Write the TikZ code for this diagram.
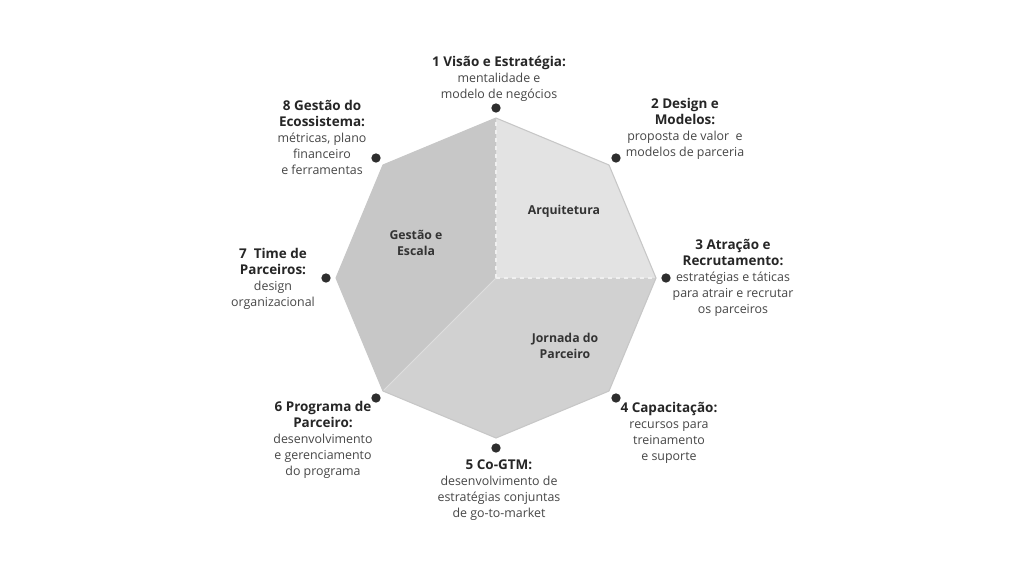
\documentclass[tikz,border=0pt]{standalone}
\usepackage{fontspec}
\setmainfont{Open Sans}
\newcommand\mytitle[1]{{\fontsize{10.1}{12}\selectfont\bfseries\color{black!85}#1}}
\begin{document}
\begin{tikzpicture}[x=0.75pt,y=-0.75pt,
  lbl/.style={align=center,inner sep=0pt,font=\fontsize{9.3}{12}\selectfont,text=black!72},
  reg/.style={align=center,inner sep=0pt,font=\fontsize{9.2}{11.5}\selectfont\bfseries,text=black!80},
  dot/.style={circle,fill=black!82,inner sep=0pt,minimum size=7pt},
  edge/.style={draw=black!22,line width=0.8pt,line join=round}]
\useasboundingbox (0,0) rectangle (1024,576);
\fill[white] (0,0) rectangle (1024,576);
% octagon vertices
\coordinate (C) at (496,278);
\coordinate (vT) at (496,118);
\coordinate (vUR) at (609,165);
\coordinate (vR) at (656,278);
\coordinate (vLR) at (609,391);
\coordinate (vB) at (496,438);
\coordinate (vLL) at (383,391);
\coordinate (vL) at (336,278);
\coordinate (vUL) at (383,165);
% regions
\fill[black!11] (C) -- (vT) -- (vUR) -- (vR) -- cycle;
\fill[black!22] (C) -- (vT) -- (vUL) -- (vL) -- (vLL) -- cycle;
\fill[black!18] (C) -- (vR) -- (vLR) -- (vB) -- (vLL) -- cycle;
\draw[black!6,line width=0.8pt,dashed] (C) -- (vT);
\draw[black!6,line width=0.8pt,dashed] (C) -- (vR);
\draw[black!13,line width=0.6pt] (C) -- (vLL);
\draw[edge] (vT) -- (vUR) -- (vR) -- (vLR) -- (vB) -- (vLL) -- (vL) -- (vUL) -- cycle;
% region labels
\node[reg] (rA) at (564,211) {Arquitetura};
\node[reg] (rG) at (416,243) {Gestão e\\Escala};
\node[reg] (rJ) at (565,346) {Jornada do\\Parceiro};
% dots
\node[dot] (d1) at (496,108) {};
\node[dot] (d2) at (616,158) {};
\node[dot] (d3) at (666,278) {};
\node[dot] (d4) at (616,398) {};
\node[dot] (d5) at (496,448) {};
\node[dot] (d6) at (376,398) {};
\node[dot] (d7) at (326,278) {};
\node[dot] (d8) at (376,158) {};
% labels
\node[lbl] (l1) at (499,79) {\mytitle{1 Visão e Estratégia:}\\mentalidade e\\modelo de negócios};
\node[lbl] (l2) at (685,129) {\mytitle{2 Design e}\\\mytitle{Modelos:}\\proposta de valor\ \ e\\modelos de parceria};
\node[lbl] (l3) at (733,278) {\mytitle{3 Atração e}\\\mytitle{Recrutamento:}\\estratégias e táticas\\para atrair e recrutar\\os parceiros};
\node[lbl] (l4) at (669,433) {\mytitle{4 Capacitação:}\\recursos para\\treinamento\\e suporte};
\node[lbl] (l5) at (499,490) {\mytitle{5 Co-GTM:}\\desenvolvimento de\\estratégias conjuntas\\de go-to-market};
\node[lbl] (l6) at (323,440) {\mytitle{6 Programa de}\\\mytitle{Parceiro:}\\desenvolvimento\\e gerenciamento\\do programa};
\node[lbl] (l7) at (273,279) {\mytitle{7\ \ Time de}\\\mytitle{Parceiros:}\\design\\organizacional};
\node[lbl] (l8) at (322,137) {\mytitle{8 Gestão do}\\\mytitle{Ecossistema:}\\métricas, plano\\financeiro\\e ferramentas};
\end{tikzpicture}
\end{document}
